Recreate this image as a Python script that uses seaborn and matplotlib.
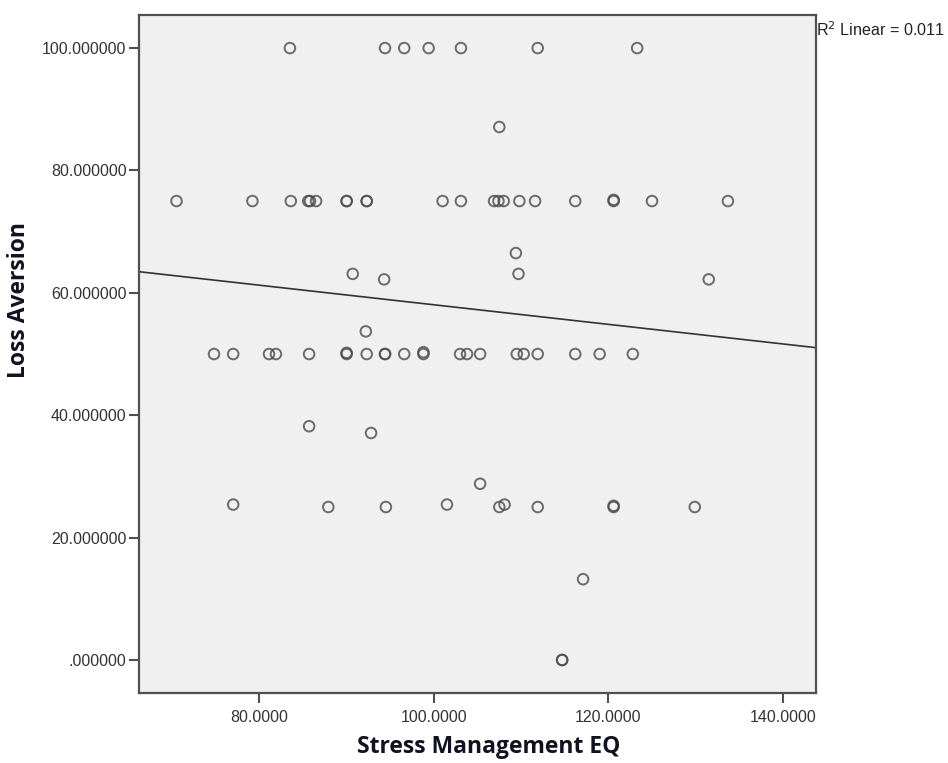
import matplotlib
matplotlib.use("Agg")
import matplotlib.pyplot as plt
import seaborn as sns
import pandas as pd
from matplotlib.ticker import FuncFormatter, FixedLocator

sns.set_style("white")
plt.rcParams['font.family'] = ['Liberation Sans', 'DejaVu Sans']

# Stress Management EQ (x) and Loss Aversion (y)
stress_eq = [
    83.5, 94.4, 96.6, 99.4, 103.1, 111.9, 123.3,
    107.5,
    70.5, 79.2, 83.6, 85.6, 85.8, 86.5, 90.0, 90.0, 92.3, 92.3, 101.0, 103.1,
    106.9, 107.4, 108.0, 109.8, 111.6, 116.2, 120.6, 120.6, 125.0, 133.7,
    109.4,
    90.7, 109.7,
    94.3, 131.5,
    92.2,
    74.8, 77.0, 81.1, 81.9, 85.7, 90.0, 90.0, 92.3, 94.4, 94.4, 96.6, 98.8,
    98.8, 103.0, 103.8, 105.3, 109.5, 110.3, 111.9, 116.2, 119.0, 122.8,
    85.7, 92.8, 105.3,
    77.0, 87.9, 94.5, 101.5, 107.5, 108.1, 111.9, 120.6, 120.6, 129.9,
    117.1,
    114.7, 114.7,
]
loss_aversion = [
    100, 100, 100, 100, 100, 100, 100,
    87.1,
    75, 75, 75, 75, 75, 75, 75, 75, 75, 75, 75, 75,
    75, 75, 75, 75, 75, 75, 75.2, 75, 75, 75,
    66.5,
    63.1, 63.1,
    62.2, 62.2,
    53.7,
    50, 50, 50, 50, 50, 50, 50.2, 50, 50, 50, 50, 50,
    50.3, 50, 50, 50, 50, 50, 50, 50, 50, 50,
    38.2, 37.1, 28.8,
    25.4, 25, 25, 25.4, 25, 25.4, 25, 25, 25.2, 25,
    13.2,
    0, 0,
]

x_ticks = [80, 100, 120, 140]
y_ticks = [0, 20, 40, 60, 80, 100]
r2_label = "R$^2$ Linear = 0.011"

df = pd.DataFrame({"Stress Management EQ": stress_eq, "Loss Aversion": loss_aversion})

fig = plt.figure(figsize=(9.48, 7.63), dpi=100)
ax = fig.add_axes([0.1466, 0.0917, 0.7142, 0.8886])
ax.set_facecolor("#f0f0f0")
ax.set_xlim(66.2, 143.8)
ax.set_ylim(-5.4, 105.4)

sns.regplot(data=df, x="Stress Management EQ", y="Loss Aversion", ax=ax,
            ci=None, truncate=False,
            scatter_kws=dict(s=58, facecolors="none", edgecolors="#4a4a4a",
                             linewidths=1.4),
            line_kws=dict(color="#333333", lw=1.2))

ax.xaxis.set_major_locator(FixedLocator(x_ticks))
ax.yaxis.set_major_locator(FixedLocator(y_ticks))
ax.xaxis.set_major_formatter(FuncFormatter(lambda v, p: f"{v:.4f}"))

def yfmt(v, p):
    s = f"{v:.6f}"
    return s[1:] if s.startswith("0.") else s

ax.yaxis.set_major_formatter(FuncFormatter(yfmt))

for sp in ax.spines.values():
    sp.set_color("#505050")
    sp.set_linewidth(1.6)

ax.tick_params(axis="both", which="major", direction="out", length=7,
               width=1.5, color="#505050", labelsize=11.5, labelcolor="#333333",
               left=True, bottom=True, top=False, right=False, pad=2)
ax.tick_params(axis="x", pad=5)

ax.set_xlabel("Stress Management EQ", fontsize=16.5, fontweight="bold",
              family=["Open Sans", "DejaVu Sans"], color="#111122",
              va="center")
ax.set_ylabel("Loss Aversion", fontsize=16.5, fontweight="bold",
              family=["Open Sans", "DejaVu Sans"], color="#111122",
              va="center")
ax.xaxis.set_label_coords(0.517, -0.080)
ax.yaxis.set_label_coords(-0.177, 0.580)

fig.text(816 / 948, 1 - 30 / 763, r2_label, fontsize=11.6, color="#222222",
         ha="left", va="center")

fig.savefig("out.png", dpi=100)
